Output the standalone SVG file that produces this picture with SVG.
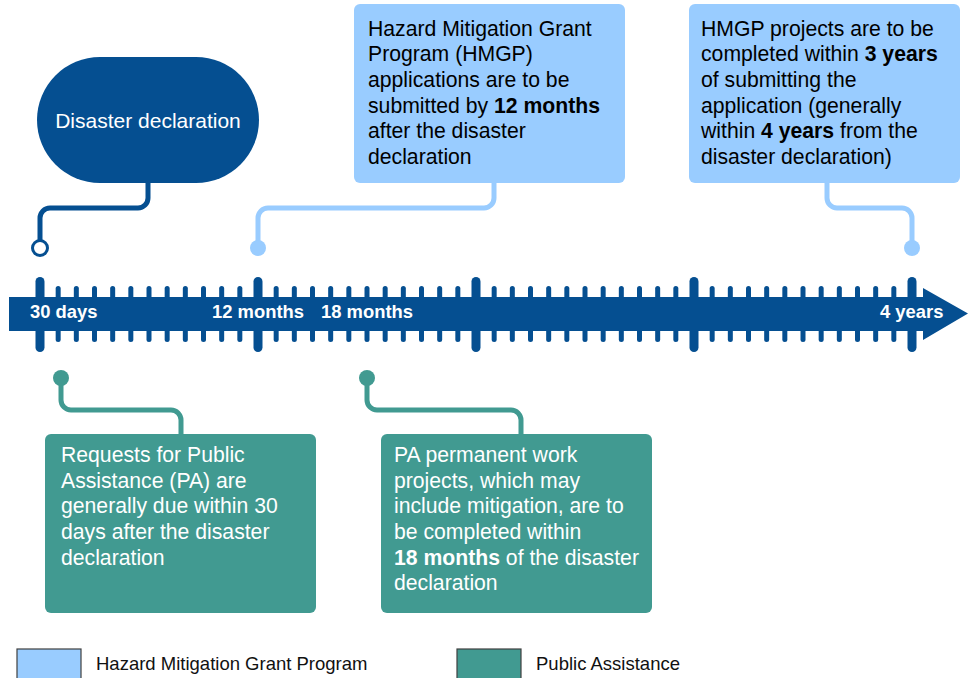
<svg xmlns="http://www.w3.org/2000/svg" width="972" height="678" viewBox="0 0 972 678">
<style>
text{font-family:"Liberation Sans",Arial,Helvetica,sans-serif}
.bx{font-size:21.2px;fill:#000}
.bxw{font-size:21.2px;fill:#fff}
.b{font-weight:bold}
.tl{font-size:18.4px;font-weight:bold;fill:#fff}
.lg{font-size:18.5px;fill:#111}
.st{stroke:#054f91;stroke-width:5;stroke-linecap:round}
.bt{stroke:#054f91;stroke-width:9;stroke-linecap:round}
.cn{fill:none;stroke-width:5}
</style>
<defs>
<line id="st" class="st" x1="0" y1="288.5" x2="0" y2="339.5"/>
<line id="bt" class="bt" x1="0" y1="281.5" x2="0" y2="347.5"/>
</defs>
<g id="connectors">
<path class="cn" stroke="#054f91" d="M148,183 V198 A10,10 0 0 1 138,208 H50 A10,10 0 0 0 40,218 V240"/>
<path class="cn" stroke="#99ccff" d="M494,183 V198 A10,10 0 0 1 484,208 H268 A10,10 0 0 0 258,218 V248"/>
<path class="cn" stroke="#99ccff" d="M827,183 V198 A10,10 0 0 0 837,208 H902 A10,10 0 0 1 912,218 V248"/>
<path class="cn" stroke="#419a91" d="M61,378 V400 A10,10 0 0 0 71,410 H171 A10,10 0 0 1 181,420 V435"/>
<path class="cn" stroke="#419a91" d="M367,378 V400 A10,10 0 0 0 377,410 H511 A10,10 0 0 1 521,420 V435"/>
<circle cx="40" cy="248" r="7.5" fill="#fff" stroke="#054f91" stroke-width="3"/>
<circle cx="258" cy="248" r="8" fill="#99ccff"/>
<circle cx="912" cy="248" r="8" fill="#99ccff"/>
<circle cx="61" cy="378" r="8" fill="#419a91"/>
<circle cx="367" cy="378" r="8" fill="#419a91"/>
</g>
<g id="timeline">
<g id="ticks">
<use href="#bt" x="40"/><use href="#st" x="58.17"/><use href="#st" x="76.33"/><use href="#st" x="94.5"/><use href="#st" x="112.67"/><use href="#st" x="130.83"/><use href="#st" x="149"/><use href="#st" x="167.17"/><use href="#st" x="185.33"/><use href="#st" x="203.5"/><use href="#st" x="221.67"/><use href="#st" x="239.83"/>
<use href="#bt" x="258"/><use href="#st" x="276.17"/><use href="#st" x="294.33"/><use href="#st" x="312.5"/><use href="#st" x="330.67"/><use href="#st" x="348.83"/><use href="#st" x="367"/><use href="#st" x="385.17"/><use href="#st" x="403.33"/><use href="#st" x="421.5"/><use href="#st" x="439.67"/><use href="#st" x="457.83"/>
<use href="#bt" x="476"/><use href="#st" x="494.17"/><use href="#st" x="512.33"/><use href="#st" x="530.5"/><use href="#st" x="548.67"/><use href="#st" x="566.83"/><use href="#st" x="585"/><use href="#st" x="603.17"/><use href="#st" x="621.33"/><use href="#st" x="639.5"/><use href="#st" x="657.67"/><use href="#st" x="675.83"/>
<use href="#bt" x="694"/><use href="#st" x="712.17"/><use href="#st" x="730.33"/><use href="#st" x="748.5"/><use href="#st" x="766.67"/><use href="#st" x="784.83"/><use href="#st" x="803"/><use href="#st" x="821.17"/><use href="#st" x="839.33"/><use href="#st" x="857.5"/><use href="#st" x="875.67"/><use href="#st" x="893.83"/>
<use href="#bt" x="912"/>
</g>
<path d="M9,297 H923 V288 L968,313.5 L923,340 V331 H9 Z" fill="#054f91"/>
<text class="tl" x="30" y="318">30 days</text>
<text class="tl" x="212" y="318">12 months</text>
<text class="tl" x="321" y="318">18 months</text>
<text class="tl" x="880" y="318">4 years</text>
</g>
<g id="disaster">
<rect x="37" y="57" width="222" height="126" rx="63" fill="#054f91"/>
<text x="148" y="128" text-anchor="middle" font-size="21" fill="#fff">Disaster declaration</text>
</g>
<g id="hmgp-apply">
<rect x="354" y="4" width="271" height="179" rx="6" fill="#99ccff"/>
<text class="bx" x="368" y="35.7">Hazard Mitigation Grant</text>
<text class="bx" x="368" y="61.4">Program (HMGP)</text>
<text class="bx" x="368" y="87">applications are to be</text>
<text class="bx" x="368" y="112.7">submitted by <tspan class="b">12 months</tspan></text>
<text class="bx" x="368" y="138.3">after the disaster</text>
<text class="bx" x="368" y="164">declaration</text>
</g>
<g id="hmgp-complete">
<rect x="689" y="4" width="271" height="179" rx="6" fill="#99ccff"/>
<text class="bx" x="701" y="35.7">HMGP projects are to be</text>
<text class="bx" x="701" y="61.4">completed within <tspan class="b">3 years</tspan></text>
<text class="bx" x="701" y="87">of submitting the</text>
<text class="bx" x="701" y="112.7">application (generally</text>
<text class="bx" x="701" y="138.3">within <tspan class="b">4 years</tspan> from the</text>
<text class="bx" x="701" y="164">disaster declaration)</text>
</g>
<g id="pa-request">
<rect x="45" y="434" width="271" height="179" rx="6" fill="#419a91"/>
<text class="bxw" x="61" y="462">Requests for Public</text>
<text class="bxw" x="61" y="487.6">Assistance (PA) are</text>
<text class="bxw" x="61" y="513.3">generally due within 30</text>
<text class="bxw" x="61" y="539">days after the disaster</text>
<text class="bxw" x="61" y="564.6">declaration</text>
</g>
<g id="pa-permanent">
<rect x="381" y="434" width="271" height="179" rx="6" fill="#419a91"/>
<text class="bxw" x="394" y="462">PA permanent work</text>
<text class="bxw" x="394" y="487.6">projects, which may</text>
<text class="bxw" x="394" y="513.3">include mitigation, are to</text>
<text class="bxw" x="394" y="539">be completed within</text>
<text class="bxw" x="394" y="564.6"><tspan class="b">18 months</tspan> of the disaster</text>
<text class="bxw" x="394" y="590.3">declaration</text>
</g>
<g id="legend">
<rect x="17" y="649" width="64" height="34" fill="#99ccff" stroke="#404040" stroke-width="1.2"/>
<text class="lg" x="96" y="670">Hazard Mitigation Grant Program</text>
<rect x="457" y="649" width="64" height="34" fill="#419a91" stroke="#404040" stroke-width="1.2"/>
<text class="lg" x="536" y="670">Public Assistance</text>
</g>
</svg>
